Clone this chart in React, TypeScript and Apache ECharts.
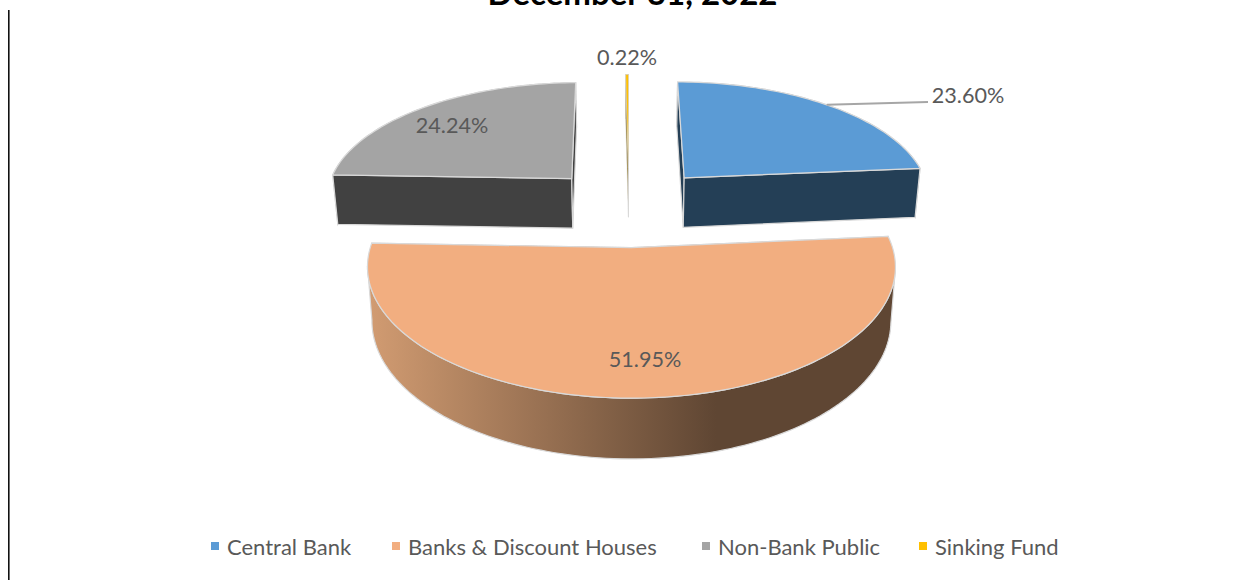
import React, { useEffect, useRef } from "react";
import * as echarts from "echarts";

const categories = ["Central Bank", "Banks & Discount Houses", "Non-Bank Public", "Sinking Fund"];
const shares = [23.6, 51.95, 24.24, 0.22];
const chartTitle = "December 31, 2022";

const topColors = ["#5B9BD5", "#F2AE80", "#A4A4A4", "#FFC000"];
const wallColors = ["#243F56", "#5F4633", "#414141", "#7F6000"];
const labelSpots = [
  [968, 94.5],
  [645, 358.5],
  [452, 124.5],
  [627, 56.5],
];
const legendLefts = [211, 392, 702, 919];

// Projection of the tilted disc: unit-radius world coordinates to pixels.
const CX = 629;
const CY = 206;
const RX = 248.7;
const RY = 116.5;
const PERSPECTIVE = 0.14;
const EXPLODE = 0.34;
const WALL = 51;
const WALL_PERSPECTIVE = 0.12;
const FLOOR_SHRINK = 0.983;
const EDGE = "#D9D9D9";
const FONT = "Lato";

const total = shares.reduce((a, b) => a + b, 0);

function project(x: number, z: number, floor: boolean): number[] {
  const s = 1 / (1 - PERSPECTIVE * z);
  return [
    CX + RX * x * s * (floor ? FLOOR_SHRINK : 1),
    CY + RY * z * s + (floor ? WALL / (1 - WALL_PERSPECTIVE * z) : 0),
  ];
}

function renderSlice(index: number, api: any) {
  const sweep = (api.value(0) / total) * Math.PI * 2;
  const start = (shares.slice(0, index).reduce((a, b) => a + b, 0) / total) * Math.PI * 2;
  const mid = start + sweep / 2;
  const ox = EXPLODE * Math.sin(mid);
  const oz = -EXPLODE * Math.cos(mid);
  const rim = (t: number) => [ox + Math.sin(t), oz - Math.cos(t)];

  const steps = Math.max(2, Math.ceil(sweep * 40));
  const arcTop: number[][] = [];
  const arcFloor: number[][] = [];
  for (let k = 0; k <= steps; k++) {
    const [x, z] = rim(start + (sweep * k) / steps);
    arcTop.push(project(x, z, false));
    arcFloor.push(project(x, z, true));
  }
  const apexTop = project(ox, oz, false);
  const apexFloor = project(ox, oz, true);

  // The outer wall only shows between the arc's left and right silhouette points.
  let iLeft = 0;
  let iRight = 0;
  arcTop.forEach((p, k) => {
    if (p[0] < arcTop[iLeft][0]) iLeft = k;
    if (p[0] > arcTop[iRight][0]) iRight = k;
  });
  const from = Math.min(iLeft, iRight);
  const to = Math.max(iLeft, iRight) + 1;

  const wallFill =
    index === 1
      ? new echarts.graphic.LinearGradient(0, 0, 1, 0, [
          { offset: 0, color: "#D29C72" },
          { offset: 0.66, color: wallColors[1] },
          { offset: 1, color: wallColors[1] },
        ])
      : wallColors[index];
  const edgeWidth = index === 3 ? 0.6 : 1.2;
  const wallStyle = { fill: wallFill, stroke: EDGE, lineWidth: edgeWidth };

  const children: any[] = [
    {
      type: "polygon",
      shape: { points: [...arcTop.slice(from, to), ...arcFloor.slice(from, to).reverse()] },
      style: wallStyle,
    },
    {
      type: "polygon",
      shape: { points: [apexTop, arcTop[0], arcFloor[0], apexFloor] },
      style: wallStyle,
    },
    {
      type: "polygon",
      shape: { points: [apexTop, arcTop[steps], arcFloor[steps], apexFloor] },
      style: wallStyle,
    },
    {
      type: "polygon",
      shape: { points: [apexTop, ...arcTop] },
      style: { fill: topColors[index], stroke: EDGE, lineWidth: edgeWidth },
    },
  ];

  // Central Bank's label sits outside the slice, joined by a leader from the rim.
  if (index === 0) {
    const [x, z] = rim(mid);
    const anchor = project(x, z, false);
    children.push({
      type: "line",
      shape: { x1: anchor[0], y1: anchor[1], x2: labelSpots[0][0] - 40, y2: labelSpots[0][1] + 7.5 },
      style: { stroke: "#A6A6A6", lineWidth: 2 },
    });
  }

  children.push({
    type: "text",
    x: labelSpots[index][0],
    y: labelSpots[index][1],
    style: {
      text: `${shares[index].toFixed(2)}%`,
      font: `21.6px ${FONT}`,
      fill: "#595959",
      align: "center",
      verticalAlign: "middle",
    },
  });

  return { type: "group", children };
}

export default function App() {
  const ref = useRef<HTMLDivElement>(null);

  useEffect(() => {
    document.body.style.margin = "0";
    const chart = echarts.init(ref.current!, null, { renderer: "svg" });
    chart.setOption({
      animation: false,
      backgroundColor: "#FFFFFF",
      title: {
        text: chartTitle,
        left: 627.5,
        textAlign: "center",
        top: -30,
        textStyle: { fontFamily: FONT, fontWeight: "bold", fontSize: 33, color: "#000000" },
      },
      legend: categories.map((name, i) => ({
        data: [name],
        left: legendLefts[i],
        top: 535,
        padding: 0,
        icon: "rect",
        itemWidth: 8,
        itemHeight: 8,
        selectedMode: false,
        textStyle: { fontFamily: FONT, fontSize: 22, color: "#595959", padding: [0, 0, 0, 3] },
      })),
      graphic: [
        {
          type: "line",
          shape: { x1: 8.8, y1: 10, x2: 8.8, y2: 580 },
          style: { stroke: "#111111", lineWidth: 1.6 },
        },
      ],
      series: categories.map((name, i) => ({
        type: "custom",
        name,
        coordinateSystem: "none",
        silent: true,
        clip: false,
        itemStyle: { color: topColors[i] },
        data: [[shares[i]]],
        renderItem: (_params: any, api: any) => renderSlice(i, api),
      })),
    });
    return () => chart.dispose();
  }, []);

  return <div ref={ref} style={{ width: 1236, height: 580 }} />;
}
